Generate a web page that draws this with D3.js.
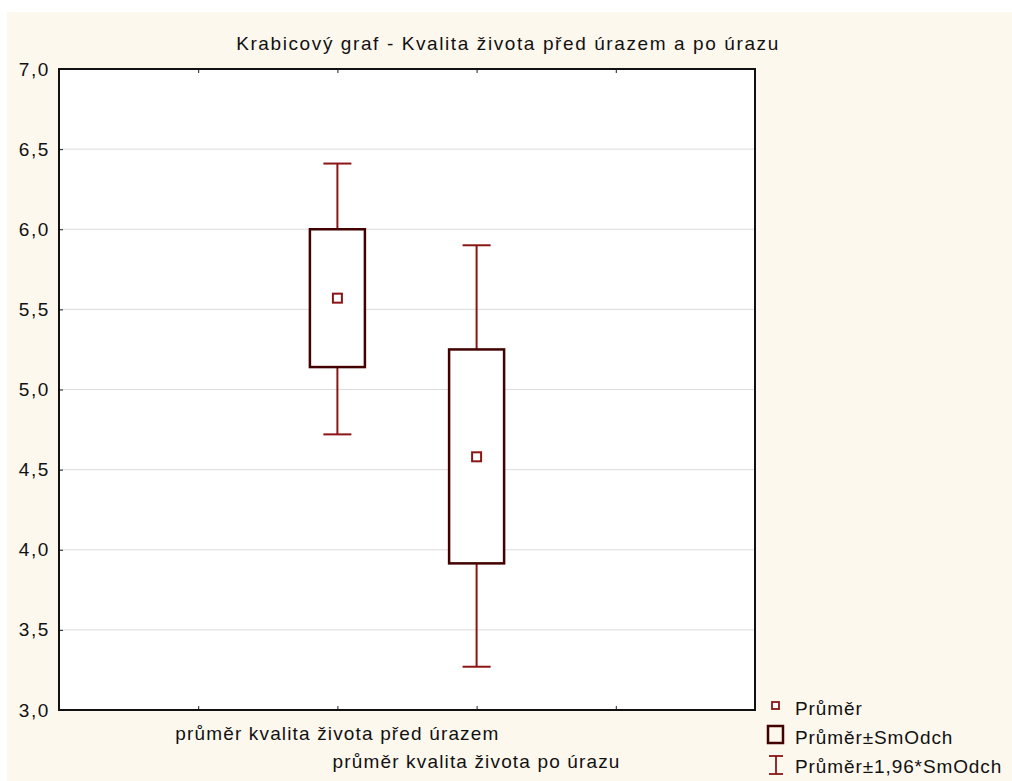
<!DOCTYPE html>
<html>
<head>
<meta charset="utf-8">
<script src="https://cdn.jsdelivr.net/npm/d3@7"></script>
<style>
  html, body { margin: 0; padding: 0; background: #ffffff; }
  svg { display: block; }
  text { font-family: "Liberation Sans", Arial, sans-serif; fill: #111; }
</style>
</head>
<body>
<svg id="chart" width="1012" height="781"></svg>
<script>
// Box plot: mean, mean ± SD (box) and mean ± 1.96·SD (whiskers)
const categories = ["průměr kvalita života před úrazem", "průměr kvalita života po úrazu"];
const means      = [5.57, 4.58];
const boxLow     = [5.14, 3.915];
const boxHigh    = [6.00, 5.25];
const whiskLow   = [4.72, 3.27];
const whiskHigh  = [6.41, 5.90];
const yTicks     = [3.0, 3.5, 4.0, 4.5, 5.0, 5.5, 6.0, 6.5, 7.0];
const xTickSlots = [1, 2, 3, 4];
const title      = "Krabicový graf - Kvalita života před úrazem a po úrazu";
const legendLabels = ["Průměr", "Průměr±SmOdch", "Průměr±1,96*SmOdch"];

const W = 1012, H = 781;
const plot = { left: 59, right: 755, top: 69, bottom: 710 };
const boxColor = "#420000";
const whiskColor = "#8b1515";
const markColor = "#8b1515";
const bg = "#fdf8ee";

const svg = d3.select("#chart");

// page background
svg.append("rect").attr("x", 7).attr("y", 12).attr("width", W - 7).attr("height", H - 12).attr("fill", bg);

const x = d3.scaleLinear().domain([0, 5]).range([plot.left, plot.right]);
const y = d3.scaleLinear().domain([3, 7]).range([plot.bottom, plot.top]);
const locale = d3.formatLocale({ decimal: ",", thousands: " ", grouping: [3], currency: ["", ""] });
const fmt = locale.format(".1f");

// plot area
svg.append("rect")
  .attr("x", plot.left).attr("y", plot.top)
  .attr("width", plot.right - plot.left).attr("height", plot.bottom - plot.top)
  .attr("fill", "#ffffff");

// horizontal grid
svg.append("g").selectAll("line")
  .data(yTicks.filter(d => d > 3 && d < 7))
  .join("line")
  .attr("x1", plot.left).attr("x2", plot.right)
  .attr("y1", d => y(d)).attr("y2", d => y(d))
  .attr("stroke", "#dcdcdc").attr("stroke-width", 1);

// y axis labels and inward ticks
const yAxis = d3.axisLeft(y).tickValues(yTicks).tickFormat(fmt).tickSizeInner(-4).tickSizeOuter(0).tickPadding(9);
const gy = svg.append("g").attr("transform", `translate(${plot.left},0)`).call(yAxis);
gy.select(".domain").remove();
gy.selectAll(".tick line").attr("stroke", "#222").attr("stroke-width", 1);
gy.selectAll(".tick text").attr("font-size", 19).attr("fill", "#111")
  .attr("letter-spacing", 1.6)
  .style("font-family", "'Liberation Sans', Arial, sans-serif");

// x ticks (bottom, pointing up) and top ticks (pointing down)
const xBottom = d3.axisBottom(x).tickValues(xTickSlots).tickFormat("").tickSizeInner(-4).tickSizeOuter(0);
const gxb = svg.append("g").attr("transform", `translate(0,${plot.bottom})`).call(xBottom);
gxb.select(".domain").remove();
gxb.selectAll(".tick line").attr("stroke", "#222").attr("stroke-width", 1);
const xTop = d3.axisTop(x).tickValues(xTickSlots).tickFormat("").tickSizeInner(-4).tickSizeOuter(0);
const gxt = svg.append("g").attr("transform", `translate(0,${plot.top})`).call(xTop);
gxt.select(".domain").remove();
gxt.selectAll(".tick line").attr("stroke", "#222").attr("stroke-width", 1);

// frame
svg.append("rect")
  .attr("x", plot.left).attr("y", plot.top)
  .attr("width", plot.right - plot.left).attr("height", plot.bottom - plot.top)
  .attr("fill", "none").attr("stroke", "#111").attr("stroke-width", 2);

// category labels, staggered
svg.append("g").selectAll("text")
  .data(categories)
  .join("text")
  .attr("x", (d, i) => x(i + 2))
  .attr("y", (d, i) => 740 + i * 28)
  .attr("text-anchor", "middle")
  .attr("font-size", 19)
  .attr("letter-spacing", 1.15)
  .text(d => d);

// title
svg.append("text")
  .attr("x", 508).attr("y", 50)
  .attr("text-anchor", "middle")
  .attr("font-size", 19)
  .attr("letter-spacing", 1.6)
  .text(title);

const boxW = 55, capW = 28, markS = 9;
const groups = svg.append("g").selectAll("g")
  .data(categories.map((c, i) => ({ c, i })))
  .join("g");

// whiskers
groups.append("line")
  .attr("x1", d => x(d.i + 2)).attr("x2", d => x(d.i + 2))
  .attr("y1", d => y(whiskHigh[d.i])).attr("y2", d => y(boxHigh[d.i]))
  .attr("stroke", whiskColor).attr("stroke-width", 2);
groups.append("line")
  .attr("x1", d => x(d.i + 2)).attr("x2", d => x(d.i + 2))
  .attr("y1", d => y(boxLow[d.i])).attr("y2", d => y(whiskLow[d.i]))
  .attr("stroke", whiskColor).attr("stroke-width", 2);
groups.append("line")
  .attr("x1", d => x(d.i + 2) - capW / 2).attr("x2", d => x(d.i + 2) + capW / 2)
  .attr("y1", d => y(whiskHigh[d.i])).attr("y2", d => y(whiskHigh[d.i]))
  .attr("stroke", whiskColor).attr("stroke-width", 2);
groups.append("line")
  .attr("x1", d => x(d.i + 2) - capW / 2).attr("x2", d => x(d.i + 2) + capW / 2)
  .attr("y1", d => y(whiskLow[d.i])).attr("y2", d => y(whiskLow[d.i]))
  .attr("stroke", whiskColor).attr("stroke-width", 2);

// boxes
groups.append("rect")
  .attr("x", d => x(d.i + 2) - boxW / 2)
  .attr("y", d => y(boxHigh[d.i]))
  .attr("width", boxW)
  .attr("height", d => y(boxLow[d.i]) - y(boxHigh[d.i]))
  .attr("fill", "#ffffff").attr("stroke", boxColor).attr("stroke-width", 2.5);

// mean markers
groups.append("rect")
  .attr("x", d => x(d.i + 2) - markS / 2)
  .attr("y", d => y(means[d.i]) - markS / 2)
  .attr("width", markS).attr("height", markS)
  .attr("fill", "#ffffff").attr("stroke", markColor).attr("stroke-width", 2);

// legend
const lg = svg.append("g");
lg.append("rect").attr("x", 772).attr("y", 702).attr("width", 7).attr("height", 7)
  .attr("fill", "#fff").attr("stroke", markColor).attr("stroke-width", 1.8);
lg.append("rect").attr("x", 768).attr("y", 726).attr("width", 15).attr("height", 17)
  .attr("fill", "none").attr("stroke", boxColor).attr("stroke-width", 2.5);
lg.append("line").attr("x1", 776).attr("x2", 776).attr("y1", 756).attr("y2", 774)
  .attr("stroke", whiskColor).attr("stroke-width", 1.8);
lg.append("line").attr("x1", 769).attr("x2", 783).attr("y1", 756).attr("y2", 756)
  .attr("stroke", whiskColor).attr("stroke-width", 1.8);
lg.append("line").attr("x1", 769).attr("x2", 783).attr("y1", 774).attr("y2", 774)
  .attr("stroke", whiskColor).attr("stroke-width", 1.8);
lg.selectAll("text")
  .data(legendLabels)
  .join("text")
  .attr("x", 795)
  .attr("y", (d, i) => 715 + i * 29)
  .attr("font-size", 19)
  .attr("letter-spacing", 0.9)
  .text(d => d);
</script>
</body>
</html>
